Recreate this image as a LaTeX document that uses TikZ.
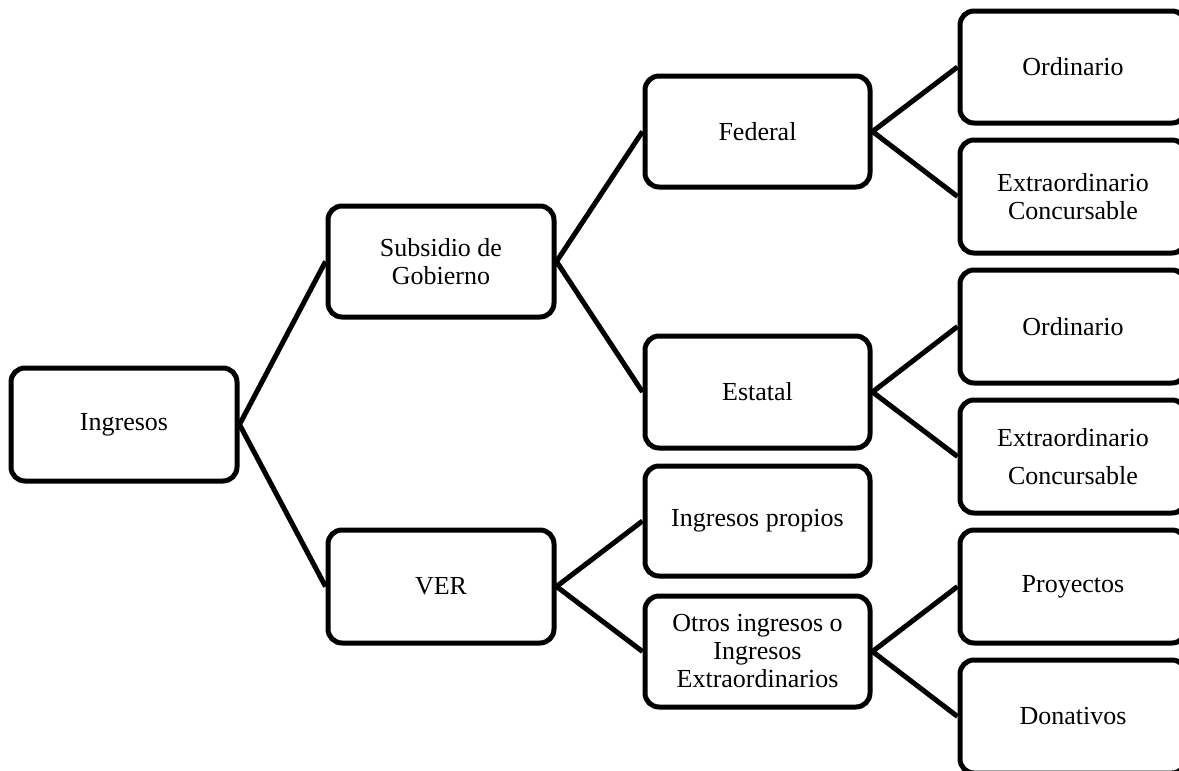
\documentclass[tikz,border=0pt]{standalone}
\usepackage{fontspec}
\setmainfont{Liberation Serif}
\begin{document}
\begin{tikzpicture}[x=1pt,y=-1pt,
  box/.style={draw=black, line width=5pt, rounded corners=14pt, fill=white,
    align=center, inner sep=0pt, font=\fontsize{26}{28}\selectfont},
  wide/.style={box, minimum width=226pt},
  link/.style={line width=5pt, black}]
  \useasboundingbox (0,0) rectangle (1179,771);
  \clip (0,0) rectangle (1179,771);

  % first and second levels
  \node[wide, minimum height=113pt] (ing) at (124,424.5) {Ingresos};
  \node[wide, minimum height=111pt] (sub) at (441,261.5) {Subsidio de\\Gobierno};
  \node[wide, minimum height=113pt] (ver) at (441,586.5) {VER};

  % third level
  \node[box, minimum width=225pt, minimum height=111pt] (fed) at (757.5,131.5) {Federal};
  \node[box, minimum width=225pt, minimum height=112pt] (est) at (757.5,392) {Estatal};
  \node[box, minimum width=225pt, minimum height=110pt] (pro) at (757.5,521) {Ingresos propios};
  \node[box, minimum width=225pt, minimum height=111pt] (otr) at (757.5,651.5) {Otros ingresos o\\Ingresos\\Extraordinarios};

  % fourth level
  \node[wide, minimum height=112pt] (ord1) at (1073,67) {Ordinario};
  \node[wide, minimum height=113pt] (ext1) at (1073,196.5) {Extraordinario\\Concursable};
  \node[wide, minimum height=113pt] (ord2) at (1073,326.5) {Ordinario};
  \node[wide, minimum height=113pt] (ext2) at (1073,456.5) {Extraordinario\\[10pt]Concursable};
  \node[wide, minimum height=113pt] (pry) at (1073,586.5) {Proyectos};
  \node[wide, minimum height=113pt] (don) at (1073,716.5) {Donativos};

  % connectors
  \draw[link] (ing.east) -- (sub.west);
  \draw[link] (ing.east) -- (ver.west);
  \draw[link] (sub.east) -- (fed.west);
  \draw[link] (sub.east) -- (est.west);
  \draw[link] (ver.east) -- (pro.west);
  \draw[link] (ver.east) -- (otr.west);
  \draw[link] (fed.east) -- (ord1.west);
  \draw[link] (fed.east) -- (ext1.west);
  \draw[link] (est.east) -- (ord2.west);
  \draw[link] (est.east) -- (ext2.west);
  \draw[link] (otr.east) -- (pry.west);
  \draw[link] (otr.east) -- (don.west);
\end{tikzpicture}
\end{document}
